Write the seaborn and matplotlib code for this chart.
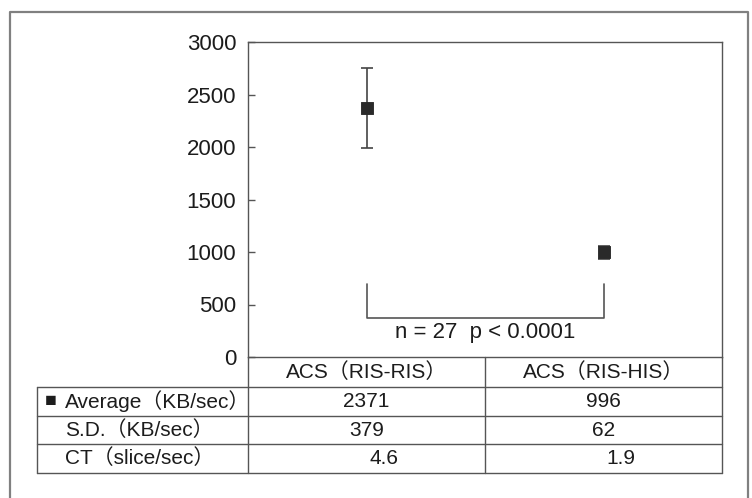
import pandas as pd
import matplotlib.pyplot as plt
import seaborn as sns

# values
groups = ['ACS（RIS-RIS）', 'ACS（RIS-HIS）']
average = [2371, 996]
sd = [379, 62]
ct = [4.6, 1.9]
row_labels = ['Average（KB/sec）', 'S.D.（KB/sec）', 'CT（slice/sec）']
yticks = [0, 500, 1000, 1500, 2000, 2500, 3000]
note = 'n = 27  p < 0.0001'

sns.set_style('white')
plt.rcParams['font.family'] = ['Liberation Sans', 'Noto Sans CJK JP']

W, H = 752, 498
line_c = '#555555'
text_c = '#1c1c1c'
fs = 15

fig = plt.figure(figsize=(W / 100, H / 100), dpi=100)

# overlay in pixel units for frame and table
ov = fig.add_axes([0, 0, 1, 1])
ov.set_xlim(0, W)
ov.set_ylim(H, 0)
ov.axis('off')

# outer frame (bottom edge runs off the picture)
ov.plot([10, 10, 748, 748], [520, 12, 12, 520], color='#808080', lw=1.6)

# table grid
x_edges = [37, 248, 485, 722]
y_rows = [387, 416, 444, 473]
for y in y_rows:
    ov.plot([x_edges[0], x_edges[-1]], [y, y], color=line_c, lw=1)
ov.plot([x_edges[0], x_edges[0]], [y_rows[0], y_rows[-1]], color=line_c, lw=1)
for x in x_edges[1:]:
    ov.plot([x, x], [357, y_rows[-1]], color=line_c, lw=1)

col_centers = [(x_edges[i] + x_edges[i + 1]) / 2 for i in (1, 2)]
for cx, g in zip(col_centers, groups):
    ov.text(cx, 372, g, ha='center', va='center', fontsize=fs, color=text_c)

table_rows = [[str(v) for v in average], [str(v) for v in sd], [str(v) for v in ct]]
for i, (lab, vals) in enumerate(zip(row_labels, table_rows)):
    yc = (y_rows[i] + y_rows[i + 1]) / 2
    ov.text(65, yc, lab, ha='left', va='center', fontsize=fs, color=text_c)
    if i == 0:
        ov.text(45, yc, '■', ha='left', va='center', fontsize=14, color=text_c)
    for cx, v in zip(col_centers, vals):
        off = 17 if i == 2 else 0
        ov.text(cx + off, yc, v, ha='center', va='center', fontsize=fs, color=text_c)

# main plot
ax = fig.add_axes([248 / W, (H - 357) / H, 474 / W, 315 / H])
ax.set_facecolor('none')
df = pd.DataFrame({'group': groups, 'average': average, 'sd': sd})
sns.scatterplot(data=df, x='group', y='average', marker='s', s=65,
                color='#2a2a2a', edgecolor='#2a2a2a', zorder=3, ax=ax)
ax.errorbar(x=[0, 1], y=df['average'], yerr=df['sd'], fmt='none',
            ecolor='#444444', elinewidth=1.2, capsize=4, capthick=1.2, zorder=2)

# significance bracket
ax.plot([0, 0, 1, 1], [695, 371, 371, 695], color=line_c, lw=1.2, clip_on=False)
ax.text(0.5, 229, note, ha='center', va='center', fontsize=16, color=text_c)

ax.set_xlim(-0.5, 1.5)
ax.set_ylim(0, 3000)
ax.set_yticks(yticks)
ax.set_xticks([])
ax.set_xlabel('')
ax.set_ylabel('')
ax.tick_params(axis='y', direction='in', length=5, width=1, color=line_c,
               labelsize=16, labelcolor=text_c, pad=8.5, left=True)
for s in ax.spines.values():
    s.set_color(line_c)
    s.set_linewidth(1)

fig.savefig('out.png', dpi=100)
